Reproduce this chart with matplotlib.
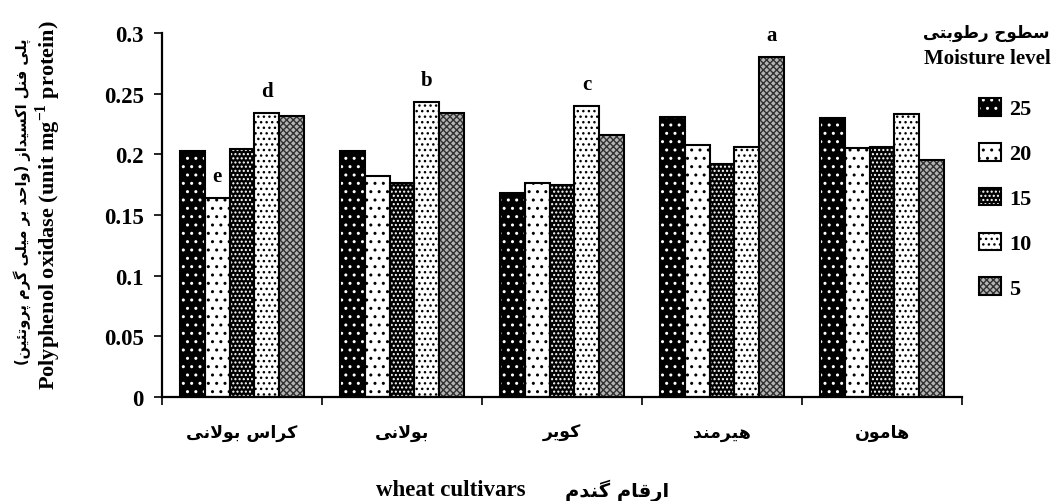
import matplotlib
matplotlib.use("Agg")
import matplotlib.pyplot as plt
import numpy as np
from matplotlib.legend_handler import HandlerTuple

# ---------------- data ----------------
cultivars = ["کراس بولانی", "بولانی", "کویر", "هیرمند", "هامون"]
moisture_levels = ["25", "20", "15", "10", "5"]
val_25 = [0.203, 0.203, 0.168, 0.231, 0.230]
val_20 = [0.164, 0.182, 0.176, 0.208, 0.205]
val_15 = [0.204, 0.176, 0.175, 0.192, 0.206]
val_10 = [0.234, 0.243, 0.240, 0.206, 0.233]
val_5 = [0.232, 0.234, 0.216, 0.280, 0.195]
# significance letters: (cultivar index, moisture index, letter)
sig_letters = [(0, 1, "e"), (0, 3, "d"), (1, 3, "b"), (2, 3, "c"), (3, 4, "a")]
yticks = [0, 0.05, 0.1, 0.15, 0.2, 0.25, 0.3]
ytick_labels = ["0", "0.05", "0.1", "0.15", "0.2", "0.25", "0.3"]
ylabel_fa = "پلی فنل اکسیداز (واحد بر میلی گرم پروتئین)"
ylabel_en = r"Polyphenol oxidase (unit mg$^{\mathbf{-1}}$ protein)"
xlabel_fa = "ارقام گندم"
xlabel_en = "wheat cultivars"
legend_title_fa = "سطوح رطوبتی"
legend_title_en = "Moisture level"

# ---------------- simple Persian shaping ----------------
FORMS = {
    'ا': ('\uFE8D', '\uFE8E', None, None),
    'ب': ('\uFE8F', '\uFE90', '\uFE91', '\uFE92'),
    'پ': ('\uFB56', '\uFB57', '\uFB58', '\uFB59'),
    'ت': ('\uFE95', '\uFE96', '\uFE97', '\uFE98'),
    'ح': ('\uFEA1', '\uFEA2', '\uFEA3', '\uFEA4'),
    'د': ('\uFEA9', '\uFEAA', None, None),
    'ر': ('\uFEAD', '\uFEAE', None, None),
    'ز': ('\uFEAF', '\uFEB0', None, None),
    'س': ('\uFEB1', '\uFEB2', '\uFEB3', '\uFEB4'),
    'ط': ('\uFEC1', '\uFEC2', '\uFEC3', '\uFEC4'),
    'ف': ('\uFED1', '\uFED2', '\uFED3', '\uFED4'),
    'ق': ('\uFED5', '\uFED6', '\uFED7', '\uFED8'),
    'ک': ('\uFB8E', '\uFB8F', '\uFB90', '\uFB91'),
    'گ': ('\uFB92', '\uFB93', '\uFB94', '\uFB95'),
    'ل': ('\uFEDD', '\uFEDE', '\uFEDF', '\uFEE0'),
    'م': ('\uFEE1', '\uFEE2', '\uFEE3', '\uFEE4'),
    'ن': ('\uFEE5', '\uFEE6', '\uFEE7', '\uFEE8'),
    'ه': ('\uFEE9', '\uFEEA', '\uFEEB', '\uFEEC'),
    'و': ('\uFEED', '\uFEEE', None, None),
    'ی': ('\uFBFC', '\uFBFD', '\uFBFE', '\uFBFF'),
    'ئ': ('\uFE89', '\uFE8A', '\uFE8B', '\uFE8C'),
}


def _dual(c):
    return c in FORMS and FORMS[c][2] is not None


def shape(s):
    out = []
    n = len(s)
    i = 0
    while i < n:
        c = s[i]
        if c not in FORMS:
            out.append(c)
            i += 1
            continue
        prev = s[i - 1] if i > 0 else None
        jp = prev is not None and _dual(prev)
        if c == 'ل' and i + 1 < n and s[i + 1] == 'ا':
            out.append('\uFEFC' if jp else '\uFEFB')
            i += 2
            continue
        nxt = s[i + 1] if i + 1 < n else None
        jn = _dual(c) and nxt is not None and nxt in FORMS
        iso, fin, ini, med = FORMS[c]
        if jp and jn:
            out.append(med)
        elif jp:
            out.append(fin)
        elif jn:
            out.append(ini)
        else:
            out.append(iso)
        i += 1
    return out


def visual(s):
    swap = {'(': ')', ')': '('}
    return ''.join(swap.get(c, c) for c in shape(s)[::-1])


# ---------------- styling ----------------
plt.rcParams['font.family'] = ['Liberation Serif', 'DejaVu Sans']
plt.rcParams['font.weight'] = 'bold'
plt.rcParams['mathtext.fontset'] = 'custom'
plt.rcParams['mathtext.rm'] = 'Liberation Serif:bold'
plt.rcParams['mathtext.bf'] = 'Liberation Serif:bold'
plt.rcParams['hatch.linewidth'] = 1.0

FA = ['DejaVu Sans']

# (face color, hatch color, hatch)
styles = [
    ('black', 'white', '..'),
    ('white', 'black', '..'),
    ('black', 'white', '....'),
    ('white', 'black', '...'),
    ('#b4b4b4', '#303030', 'xxxxx'),
]
series = [val_25, val_20, val_15, val_10, val_5]

fig = plt.figure(figsize=(10.59, 5.02), dpi=100)
ax = fig.add_axes([162 / 1059, 1 - 398 / 502, 800 / 1059, 364 / 502])

x = np.arange(len(cultivars))
w = 0.156
handles = []
for j, (vals, (fc, hc, h)) in enumerate(zip(series, styles)):
    pos = x + (j - 2) * w
    b1 = ax.bar(pos, vals, w, color=fc, edgecolor=hc, hatch=h, linewidth=0, zorder=2)
    b2 = ax.bar(pos, vals, w, fill=False, edgecolor='black', linewidth=1.5, zorder=3)
    handles.append((b1.patches[0], b2.patches[0]))

for ci, mi, letter in sig_letters:
    v = series[mi][ci]
    ax.annotate(letter, (x[ci] + (mi - 2) * w, v), xytext=(0, 16),
                textcoords='offset points', ha='center', va='center',
                fontsize=15, fontweight='bold')

ax.set_xlim(-0.5, len(cultivars) - 0.5)
ax.set_ylim(0, 0.3)
ax.set_yticks(yticks)
ax.set_yticklabels(ytick_labels, fontsize=16.5, fontweight='bold')
ax.set_xticks(x)
ax.set_xticklabels([visual(c) for c in cultivars], fontsize=12.5,
                   fontweight='bold', family=FA)
ax.set_xticks(np.arange(-0.5, len(cultivars)), minor=True)
ax.tick_params(axis='x', which='major', length=0, pad=19)
ax.tick_params(axis='x', which='minor', length=6, width=1.2, direction='out')
ax.tick_params(axis='y', which='major', length=6, width=1.2, direction='out', pad=7)
for s in ['top', 'right']:
    ax.spines[s].set_visible(False)
for s in ['left', 'bottom']:
    ax.spines[s].set_linewidth(1.6)

# y label (two lines)
fig.text(22 / 1059, 1 - 202 / 502, visual(ylabel_fa), rotation=90, ha='center',
         va='center', fontsize=10.5, fontweight='bold', family=FA)
fig.text(48 / 1059, 1 - 205 / 502, ylabel_en, rotation=90, ha='center',
         va='center', fontsize=16, fontweight='bold')

# x label
fig.text(451 / 1059, 1 - 491 / 502, xlabel_en, ha='center', va='center',
         fontsize=16.5, fontweight='bold')
fig.text(617 / 1059, 1 - 491 / 502, visual(xlabel_fa), ha='center', va='center',
         fontsize=14, fontweight='bold', family=FA)

# legend title
fig.text(986 / 1059, 1 - 33 / 502, visual(legend_title_fa), ha='center', va='center',
         fontsize=12, fontweight='bold', family=FA)
fig.text(987 / 1059, 1 - 59 / 502, legend_title_en, ha='center', va='center',
         fontsize=15, fontweight='bold')

leg = ax.legend(handles, moisture_levels, handler_map={tuple: HandlerTuple(ndivide=1, pad=0)},
                loc='upper left', bbox_to_anchor=(970 / 1059, 1 - 90 / 502),
                bbox_transform=fig.transFigure, frameon=False,
                prop={'family': 'Liberation Serif', 'weight': 'bold', 'size': 16},
                handlelength=1.0, handleheight=0.85, labelspacing=1.05,
                handletextpad=0.35, borderaxespad=0)

fig.savefig('out.png', dpi=100)
